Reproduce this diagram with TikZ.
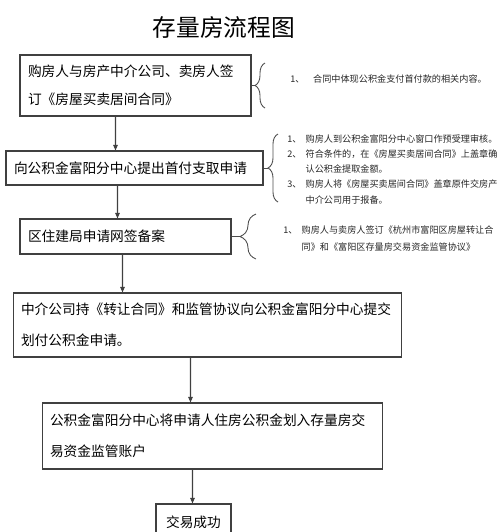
\documentclass[tikz,border=0pt]{standalone}
\usepackage{fontspec}
\newfontfamily\cjk{Noto Sans CJK SC}
\usetikzlibrary{arrows.meta, calc, decorations.pathreplacing}
\tikzset{
    proc/.style={rectangle, draw=black!75, line width=0.6pt, fill=white,
                 align=left, inner xsep=0.16cm, inner ysep=0pt,
                 font=\cjk\fontsize{7.8pt}{17.5pt}\selectfont},
    note/.style={anchor=north west, align=left, inner sep=0pt, black!85,
                 font=\cjk\fontsize{5.2pt}{8.6pt}\selectfont},
    headline/.style={font=\cjk\fontsize{13.5pt}{16pt}\selectfont},
    flow/.style={-{Triangle[length=1.1mm, width=0.9mm]}, line width=0.6pt, black!75},
    curly/.style={decorate, decoration={brace, amplitude=0.2cm, aspect=0.5},
                  line width=0.5pt, black!70},
    stub/.style={line width=0.5pt, black!70}
}
\begin{document}
\begin{tikzpicture}[x=0.02cm, y=-0.02cm]
    \useasboundingbox (0,0) rectangle (500,532);
    \clip (0,0) rectangle (500,532);
    \node[headline] (title) at (224,27) {存量房流程图};
    % process boxes
    \node[proc, minimum width=4.62cm, minimum height=1.22cm, text width=4.30cm] (b1) at (135.5,85.5)
        {购房人与房产中介公司、卖房人签\\[-1.5pt]订《房屋买卖居间合同》};
    \node[proc, minimum width=5.14cm, minimum height=0.68cm, text width=4.82cm] (b2) at (134.5,168)
        {向公积金富阳分中心提出首付支取申请};
    \node[proc, minimum width=4.22cm, minimum height=0.70cm, text width=3.90cm] (b3) at (125.5,236.5)
        {区住建局申请网签备案};
    \node[proc, minimum width=7.78cm, minimum height=1.28cm, text width=7.46cm] (b4) at (207.5,325)
        {中介公司持《转让合同》和监管协议向公积金富阳分中心提交\\划付公积金申请。};
    \node[proc, minimum width=6.82cm, minimum height=1.32cm, text width=6.50cm] (b5) at (212.5,436)
        {公积金富阳分中心将申请人住房公积金划入存量房交\\易资金监管账户};
    \node[proc, minimum width=1.50cm, minimum height=0.72cm, text width=1.18cm, align=center] (b6) at (193.5,522)
        {交易成功};
    % arrows
    \draw[flow] ($(b1.south west)+(96,0)$) -- ($(b2.north west)+(110,0)$);
    \draw[flow] ($(b2.south west)+(112,0)$) -- ($(b3.north west)+(98,0)$);
    \draw[flow] ($(b3.south west)+(103,0)$) -- ($(b4.north west)+(110,0)$);
    \draw[flow] ($(b4.south west)+(178,0)$) -- ($(b5.north west)+(149,0)$);
    \draw[flow] ($(b5.south west)+(151,0)$) -- ($(b6.north west)+(37,0)$);
    % braces and remarks
    \coordinate (tip1) at (255,85.5);
    \coordinate (tip2) at (268,168);
    \coordinate (tip3) at (240,236.5);
    \draw[curly] (265,108) -- (265,63);
    \draw[curly] (278,202) -- (278,134);
    \draw[curly, decoration={amplitude=0.32cm}] (256,259) -- (256,214);
    \draw[stub] (b1.east) -- (tip1);
    \draw[stub] (b2.east) -- (tip2);
    \draw[stub] (b3.east) -- (tip3);
    \node[note] (n1) at (290,74.5) {\makebox[2.5em][l]{1、}合同中体现公积金支付首付款的相关内容。};
    \node[note] (n2) at (287,134.5) {%
        \makebox[2em][l]{1、}购房人到公积金富阳分中心窗口作预受理审核。\\
        \makebox[2em][l]{2、}符合条件的，在《房屋买卖居间合同》上盖章确\\
        \hspace*{2em}认公积金提取金额。\\
        \makebox[2em][l]{3、}购房人将《房屋买卖居间合同》盖章原件交房产\\
        \hspace*{2em}中介公司用于报备。};
    \node[note] (n3) at (283,225.5) {%
        \makebox[2em][l]{1、}购房人与卖房人签订《杭州市富阳区房屋转让合\\[1pt]
        \hspace*{2em}同》和《富阳区存量房交易资金监管协议》};
\end{tikzpicture}
\end{document}
